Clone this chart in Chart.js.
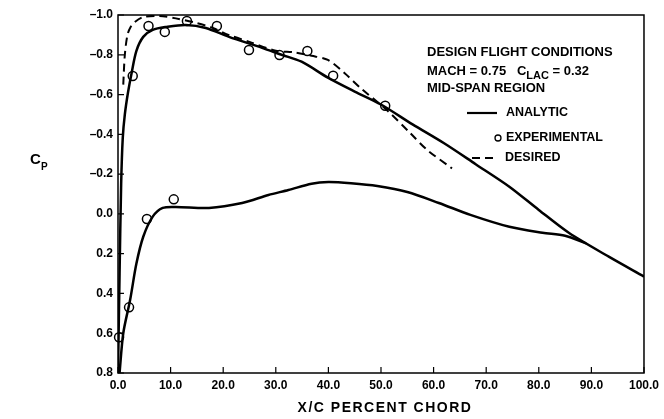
<!DOCTYPE html>
<html>
<head>
<meta charset="utf-8">
<script src="https://cdn.jsdelivr.net/npm/chart.js@4/dist/chart.umd.min.js"></script>
<style>
  html, body { margin: 0; padding: 0; background: #fff; }
  #wrap { width: 664px; height: 419px; }
</style>
</head>
<body>
<div id="wrap"><canvas id="cpChart" width="664" height="419"></canvas></div>
<script>
// axis ticks
const xTicks = [0, 10, 20, 30, 40, 50, 60, 70, 80, 90, 100];
const yTicks = [-1.0, -0.8, -0.6, -0.4, -0.2, 0.0, 0.2, 0.4, 0.6, 0.8];

// analytic, upper surface
const upperX = [0, 0.3, 0.6, 0.9, 1.3, 1.9, 2.6, 3.5, 4.8, 6.6, 9.2, 12.9, 16.7, 21.1, 27.4, 31.1, 34.9, 39.9, 45, 50, 56, 62, 68, 74.4, 80, 85.7, 93.3, 100];
const upperCp = [0.8, 0.3, -0.15, -0.38, -0.5, -0.61, -0.71, -0.82, -0.89, -0.925, -0.94, -0.95, -0.935, -0.89, -0.835, -0.80, -0.765, -0.685, -0.615, -0.55, -0.45, -0.355, -0.25, -0.137, -0.02, 0.095, 0.215, 0.315];

// analytic, lower surface
const lowerX = [0.3, 1.0, 2.3, 3.5, 4.8, 6.6, 8.5, 11, 17.3, 23.6, 28.6, 32.4, 36.8, 40, 44.3, 49.3, 55, 61, 67, 74.4, 80.7, 85, 89];
const lowerCp = [0.8, 0.6, 0.433, 0.25, 0.115, 0.014, -0.03, -0.035, -0.03, -0.055, -0.095, -0.12, -0.152, -0.16, -0.154, -0.14, -0.11, -0.055, 0.005, 0.065, 0.095, 0.11, 0.148];

// desired distribution
const desiredX = [1.0, 1.3, 1.8, 2.4, 3.2, 4.8, 7.9, 11, 14.8, 18, 21, 25, 30, 33.6, 36.8, 39.9, 43.1, 46.2, 51.2, 55.6, 58.8, 63.5];
const desiredCp = [-0.65, -0.8, -0.9, -0.94, -0.965, -0.99, -0.995, -0.983, -0.961, -0.935, -0.9, -0.865, -0.82, -0.812, -0.795, -0.774, -0.707, -0.631, -0.52, -0.405, -0.321, -0.229];

// experimental points
const expX = [0.2, 2.1, 5.5, 10.6, 2.8, 5.8, 8.9, 13.1, 18.8, 24.9, 30.7, 36.0, 40.9, 50.8];
const expCp = [0.62, 0.47, 0.026, -0.073, -0.693, -0.945, -0.915, -0.97, -0.945, -0.824, -0.799, -0.819, -0.695, -0.544];

const toPts = (xs, ys) => xs.map((x, i) => ({ x: x, y: ys[i] }));

const FONT = '"Liberation Sans", Arial, sans-serif';

function fmt(v) {
    const s = Math.abs(v).toFixed(1);
    return v < -0.001 ? '\u2013' + s : s;
}

// frame, inner tick marks and the text block
const decorations = {
    id: 'decorations',
    afterDraw(chart) {
        const ctx = chart.ctx;
        const a = chart.chartArea;
        const xs = chart.scales.x, ys = chart.scales.y;
        ctx.save();
        ctx.strokeStyle = '#000';
        ctx.lineWidth = 1.5;
        ctx.strokeRect(a.left, a.top, a.right - a.left, a.bottom - a.top);

        ctx.lineWidth = 1.2;
        ctx.beginPath();
        xTicks.forEach(v => {
            const px = xs.getPixelForValue(v);
            ctx.moveTo(px, a.bottom);
            ctx.lineTo(px, a.bottom - 6);
        });
        yTicks.forEach(v => {
            const py = ys.getPixelForValue(v);
            ctx.moveTo(a.left, py);
            ctx.lineTo(a.left + 6, py);
        });
        ctx.stroke();

        ctx.fillStyle = '#000';
        ctx.textBaseline = 'middle';
        ctx.textAlign = 'left';

        // C_P label
        ctx.font = 'bold 15px ' + FONT;
        ctx.fillText('C', 30, 160);
        ctx.font = 'bold 10px ' + FONT;
        ctx.fillText('P', 41, 167);

        // axis title
        ctx.font = 'bold 14px ' + FONT;
        ctx.letterSpacing = '1.5px';
        ctx.textAlign = 'center';
        ctx.fillText('X/C PERCENT CHORD', 385, 408);
        ctx.letterSpacing = '0px';

        // conditions
        ctx.textAlign = 'left';
        ctx.font = 'bold 13px ' + FONT;
        ctx.fillText('DESIGN FLIGHT CONDITIONS', 427, 52);
        let x = 427;
        const p1 = 'MACH = 0.75   C';
        ctx.fillText(p1, x, 71);
        x += ctx.measureText(p1).width;
        ctx.font = 'bold 11px ' + FONT;
        ctx.fillText('LAC', x, 76);
        x += ctx.measureText('LAC').width;
        ctx.font = 'bold 13px ' + FONT;
        ctx.fillText(' = 0.32', x, 71);
        ctx.fillText('MID-SPAN REGION', 427, 88);

        // legend
        ctx.font = 'bold 12.5px ' + FONT;
        ctx.lineWidth = 2.2;
        ctx.beginPath();
        ctx.moveTo(467, 113);
        ctx.lineTo(497, 113);
        ctx.stroke();
        ctx.fillText('ANALYTIC', 506, 113);

        ctx.lineWidth = 1.3;
        ctx.beginPath();
        ctx.arc(498, 138, 3, 0, Math.PI * 2);
        ctx.stroke();
        ctx.fillText('EXPERIMENTAL', 506, 138);

        ctx.lineWidth = 2.2;
        ctx.setLineDash([8, 5]);
        ctx.beginPath();
        ctx.moveTo(472, 158);
        ctx.lineTo(497, 158);
        ctx.stroke();
        ctx.setLineDash([]);
        ctx.fillText('DESIRED', 505, 158);
        ctx.restore();
    }
};

const ctx = document.getElementById('cpChart').getContext('2d');
new Chart(ctx, {
    type: 'scatter',
    data: {
        datasets: [
            {
                label: 'Analytic (upper)',
                data: toPts(upperX, upperCp),
                showLine: true,
                borderColor: '#000',
                borderWidth: 2.5,
                pointRadius: 0,
                tension: 0.3
            },
            {
                label: 'Analytic (lower)',
                data: toPts(lowerX, lowerCp),
                showLine: true,
                borderColor: '#000',
                borderWidth: 2.5,
                pointRadius: 0,
                tension: 0.3
            },
            {
                label: 'Desired',
                data: toPts(desiredX, desiredCp),
                showLine: true,
                borderColor: '#000',
                borderWidth: 2,
                borderDash: [8, 5],
                pointRadius: 0,
                tension: 0.3
            },
            {
                label: 'Experimental',
                data: toPts(expX, expCp),
                showLine: false,
                clip: 8,
                pointRadius: 4.5,
                pointBackgroundColor: '#fff',
                pointBorderColor: '#000',
                pointBorderWidth: 1.5
            }
        ]
    },
    options: {
        responsive: false,
        animation: false,
        layout: { padding: { top: 15, right: 15, left: 0, bottom: 0 } },
        plugins: {
            legend: { display: false },
            tooltip: { enabled: false }
        },
        scales: {
            x: {
                type: 'linear',
                min: 0,
                max: 100,
                afterFit(scale) { scale.height = 46; },
                afterBuildTicks(scale) { scale.ticks = xTicks.map(v => ({ value: v })); },
                grid: { display: false, drawTicks: false },
                border: { display: false },
                ticks: {
                    padding: 5,
                    color: '#000',
                    font: { family: FONT, size: 12, weight: 'bold' },
                    maxRotation: 0,
                    callback: v => Number(v).toFixed(1)
                }
            },
            y: {
                type: 'linear',
                reverse: true,
                min: -1.0,
                max: 0.8,
                afterFit(scale) { scale.width = 118; },
                afterBuildTicks(scale) { scale.ticks = yTicks.map(v => ({ value: v })); },
                grid: { display: false, drawTicks: false },
                border: { display: false },
                ticks: {
                    padding: 5,
                    color: '#000',
                    font: { family: FONT, size: 12, weight: 'bold' },
                    callback: v => fmt(v)
                }
            }
        }
    },
    plugins: [decorations]
});
</script>
</body>
</html>
